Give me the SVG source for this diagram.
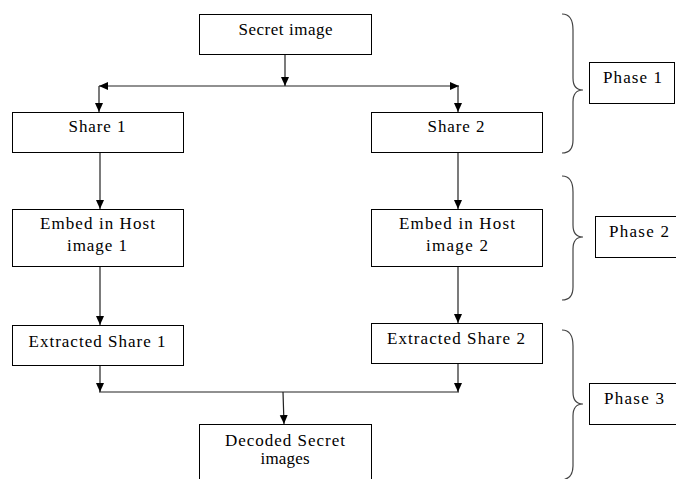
<svg xmlns="http://www.w3.org/2000/svg" width="676" height="479" viewBox="0 0 676 479">
<defs>
<marker id="ah" markerUnits="userSpaceOnUse" markerWidth="10" markerHeight="9" refX="9" refY="4" orient="auto">
<path d="M0,0 L9,4 L0,8 z" fill="#000"/>
</marker>
<style>
.box{fill:#fff;stroke:#000;stroke-width:1}
.t{font-family:"Liberation Serif","Times New Roman",serif;font-size:17px;fill:#000;text-anchor:middle}
.c{stroke:#222;stroke-width:1.2;fill:none}
.a{marker-end:url(#ah)}
.br{stroke:#444;stroke-width:1.2;fill:none}
</style>
</defs>
<rect width="676" height="479" fill="#fff"/>
<g id="connectors">
<line class="c a" x1="285" y1="54" x2="285" y2="86"/>
<line class="c a" x1="285" y1="86" x2="99" y2="86"/>
<line class="c a" x1="285" y1="86" x2="459" y2="86"/>
<line class="c a" x1="99" y1="86" x2="99" y2="112"/>
<line class="c a" x1="458" y1="86" x2="458" y2="112"/>
<line class="c a" x1="100" y1="152" x2="100" y2="209"/>
<line class="c a" x1="458" y1="152" x2="458" y2="209"/>
<line class="c a" x1="100" y1="266" x2="100" y2="325"/>
<line class="c a" x1="458" y1="266" x2="458" y2="323"/>
<line class="c a" x1="100" y1="365" x2="100" y2="392"/>
<line class="c a" x1="458" y1="363" x2="458" y2="392"/>
<line class="c" x1="99" y1="392" x2="459" y2="392"/>
<line class="c a" x1="283" y1="392" x2="284" y2="424"/>
</g>
<g id="secret">
<rect class="box" x="199.5" y="14.5" width="172" height="40"/>
<text class="t" x="285.5" y="35" textLength="94" lengthAdjust="spacing">Secret image</text>
</g>
<g id="share1">
<rect class="box" x="12.5" y="112.5" width="171" height="40"/>
<text class="t" x="97" y="132" textLength="57" lengthAdjust="spacing">Share 1</text>
</g>
<g id="share2">
<rect class="box" x="371.5" y="112.5" width="171" height="40"/>
<text class="t" x="456" y="132" textLength="57" lengthAdjust="spacing">Share 2</text>
</g>
<g id="embed1">
<rect class="box" x="12.5" y="209.5" width="171" height="57"/>
<text class="t" x="97.5" y="229" textLength="115" lengthAdjust="spacing">Embed in Host</text>
<text class="t" x="97" y="251" textLength="60" lengthAdjust="spacing">image 1</text>
</g>
<g id="embed2">
<rect class="box" x="371.5" y="209.5" width="171" height="57"/>
<text class="t" x="457" y="229" textLength="116" lengthAdjust="spacing">Embed in Host</text>
<text class="t" x="457" y="251" textLength="62" lengthAdjust="spacing">image 2</text>
</g>
<g id="extract1">
<rect class="box" x="12.5" y="325.5" width="171" height="40"/>
<text class="t" x="97" y="347" textLength="137" lengthAdjust="spacing">Extracted Share 1</text>
</g>
<g id="extract2">
<rect class="box" x="371.5" y="323.5" width="171" height="40"/>
<text class="t" x="456" y="344" textLength="138" lengthAdjust="spacing">Extracted Share 2</text>
</g>
<g id="decoded">
<rect class="box" x="199.5" y="424.5" width="172" height="70"/>
<text class="t" x="285" y="446" textLength="120" lengthAdjust="spacing">Decoded Secret</text>
<text class="t" x="285" y="464" textLength="49" lengthAdjust="spacing">images</text>
</g>
<g id="phase1">
<path class="br" d="M562,14 C570,14 573,20 573,30 L573,78 C573,86 577,90 583,90 C577,90 573,94 573,102 L573,140 C573,148 570,153 562,153"/>
<rect class="box" x="589.5" y="62.5" width="85" height="41"/>
<text class="t" x="632.5" y="83" textLength="59" lengthAdjust="spacing">Phase 1</text>
</g>
<g id="phase2">
<path class="br" d="M562,176 C570,176 573,182 573,192 L573,225 C573,233 577,237 583,237 C577,237 573,241 573,249 L573,287 C573,295 570,300 562,300"/>
<rect class="box" x="595.5" y="216.5" width="90" height="41"/>
<text class="t" x="639" y="237" textLength="60" lengthAdjust="spacing">Phase 2</text>
</g>
<g id="phase3">
<path class="br" d="M562,330 C570,330 573,336 573,346 L573,392 C573,400 577,404 583,404 C577,404 573,408 573,416 L573,466 C573,474 570,479 562,480"/>
<rect class="box" x="589.5" y="383.5" width="95" height="41"/>
<text class="t" x="634" y="404" textLength="60" lengthAdjust="spacing">Phase 3</text>
</g>
</svg>
